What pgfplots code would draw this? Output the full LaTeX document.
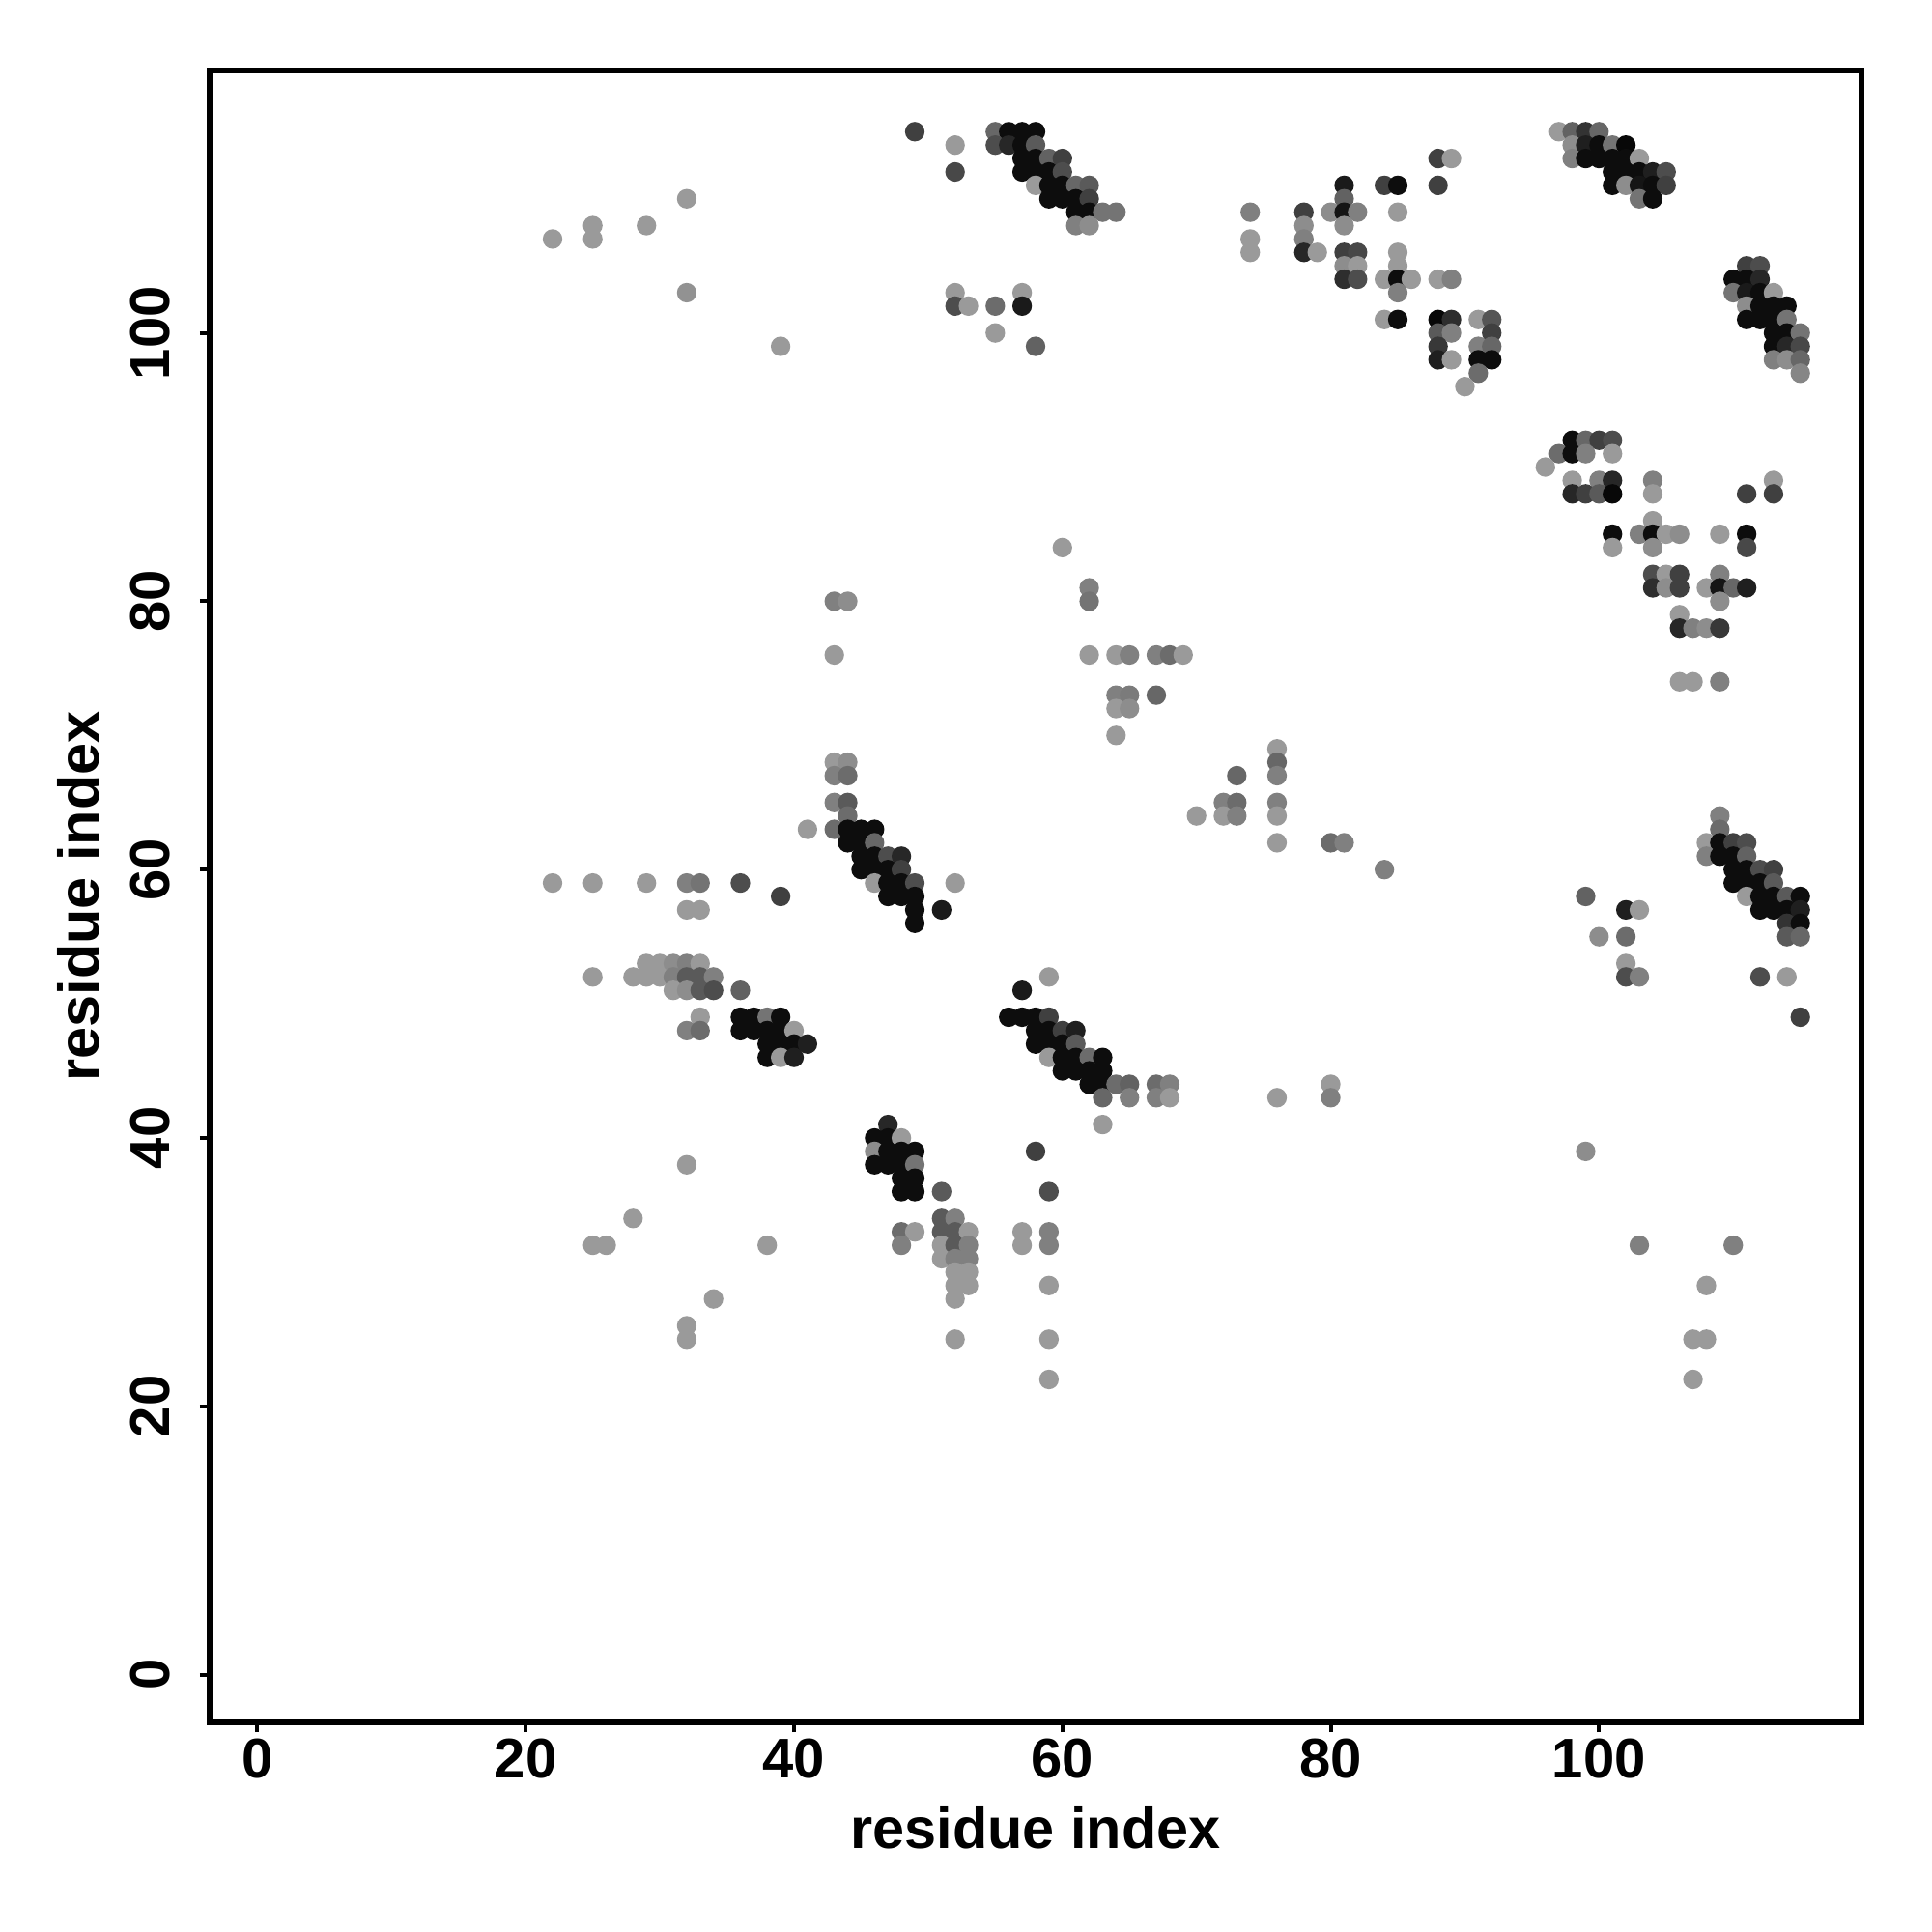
\documentclass[border=0pt]{standalone}
\usepackage{fontspec}
\setmainfont{Liberation Sans}
\usepackage{pgfplots}
\pgfplotsset{compat=1.18}
\usepackage{pgfplotstable}

\pgfplotstableread{
x y g
49 115 0.25
32 110 0.6
25 108 0.6
25 107 0.6
22 107 0.6
29 108 0.6
32 103 0.57
39 99 0.6
52 114 0.6
52 112 0.28
55 115 0.4
56 115 0.05
57 115 0.05
58 115 0.05
55 114 0.3
56 114 0.15
57 114 0.05
58 114 0.35
57 113 0.05
58 113 0.05
59 113 0.38
60 113 0.25
57 112 0.05
58 112 0.05
59 112 0.05
60 112 0.3
58 111 0.6
59 111 0.05
60 111 0.05
61 111 0.4
62 111 0.35
59 110 0.05
60 110 0.05
61 110 0.05
62 110 0.25
61 109 0.05
62 109 0.05
63 109 0.45
64 109 0.45
61 108 0.5
62 108 0.55
52 103 0.6
52 102 0.3
53 102 0.6
55 102 0.42
57 103 0.6
57 102 0.1
55 100 0.6
58 99 0.38
88 113 0.25
89 113 0.6
81 111 0.1
84 111 0.25
85 111 0.05
88 111 0.25
81 110 0.38
74 109 0.5
78 109 0.25
80 109 0.55
81 109 0.08
82 109 0.5
85 109 0.6
78 108 0.55
81 108 0.55
74 107 0.6
78 107 0.5
74 106 0.6
78 106 0.15
79 106 0.6
81 106 0.25
82 106 0.28
85 106 0.6
81 105 0.55
82 105 0.6
85 105 0.6
81 104 0.18
82 104 0.3
84 104 0.6
85 104 0.05
86 104 0.6
88 104 0.6
89 104 0.5
85 103 0.5
84 101 0.6
85 101 0.05
88 101 0.03
89 101 0.18
91 101 0.6
92 101 0.33
88 100 0.35
89 100 0.5
92 100 0.25
88 99 0.22
91 99 0.5
92 99 0.4
88 98 0.12
89 98 0.6
91 98 0.05
92 98 0.05
91 97 0.42
90 96 0.6
97 115 0.6
98 115 0.38
99 115 0.2
100 115 0.4
98 114 0.55
99 114 0.12
100 114 0.05
101 114 0.45
102 114 0.03
98 113 0.5
99 113 0.05
100 113 0.05
101 113 0.05
102 113 0.05
103 113 0.6
101 112 0.05
102 112 0.05
103 112 0.05
104 112 0.12
105 112 0.3
101 111 0.05
102 111 0.55
103 111 0.08
104 111 0.05
105 111 0.25
103 110 0.45
104 110 0.05
111 105 0.25
112 105 0.3
110 104 0.05
111 104 0.05
112 104 0.15
110 103 0.45
111 103 0.1
112 103 0.05
113 103 0.6
111 102 0.55
112 102 0.05
113 102 0.05
114 102 0.05
111 101 0.05
112 101 0.05
113 101 0.05
114 101 0.45
113 100 0.05
114 100 0.05
115 100 0.45
113 99 0.05
114 99 0.15
115 99 0.28
113 98 0.5
114 98 0.55
115 98 0.4
115 97 0.52
98 92 0.05
99 92 0.4
100 92 0.25
101 92 0.3
97 91 0.42
98 91 0.05
99 91 0.5
101 91 0.6
96 90 0.6
98 89 0.6
100 89 0.5
101 89 0.15
104 89 0.5
113 89 0.6
98 88 0.15
99 88 0.25
100 88 0.35
101 88 0.03
104 88 0.6
111 88 0.25
113 88 0.25
104 86 0.6
101 85 0.05
103 85 0.5
104 85 0.05
105 85 0.6
106 85 0.55
109 85 0.6
111 85 0.05
101 84 0.6
104 84 0.55
111 84 0.28
104 82 0.3
105 82 0.6
106 82 0.25
109 82 0.5
104 81 0.18
105 81 0.55
106 81 0.25
108 81 0.6
109 81 0.08
110 81 0.4
111 81 0.12
109 80 0.55
106 79 0.6
106 78 0.15
107 78 0.5
108 78 0.55
109 78 0.22
106 74 0.6
107 74 0.6
109 74 0.5
60 84 0.6
43 80 0.5
44 80 0.55
62 81 0.5
62 80 0.45
43 76 0.6
62 76 0.6
64 76 0.6
65 76 0.5
67 76 0.5
68 76 0.42
69 76 0.6
64 73 0.5
65 73 0.48
67 73 0.4
64 72 0.6
65 72 0.55
64 70 0.6
43 68 0.6
44 68 0.55
43 67 0.5
44 67 0.42
43 65 0.5
44 65 0.35
44 64 0.42
41 63 0.6
43 63 0.42
44 63 0.05
45 63 0.05
46 63 0.05
70 64 0.6
44 62 0.05
45 62 0.05
46 62 0.4
45 61 0.05
46 61 0.05
47 61 0.3
48 61 0.15
45 60 0.05
46 60 0.05
47 60 0.05
48 60 0.25
46 59 0.6
47 59 0.05
48 59 0.05
49 59 0.3
52 59 0.6
47 58 0.05
48 58 0.05
49 58 0.05
49 57 0.05
51 57 0.1
49 56 0.05
59 52 0.6
57 51 0.1
56 49 0.05
57 49 0.05
58 49 0.05
59 49 0.25
58 48 0.05
59 48 0.05
60 48 0.25
61 48 0.12
58 47 0.05
59 47 0.05
60 47 0.05
61 47 0.35
59 46 0.6
60 46 0.05
61 46 0.05
62 46 0.42
63 46 0.05
60 45 0.05
61 45 0.05
62 45 0.05
63 45 0.05
62 44 0.05
63 44 0.05
64 44 0.42
65 44 0.38
67 44 0.42
68 44 0.5
63 43 0.4
65 43 0.5
67 43 0.5
68 43 0.6
63 41 0.6
22 59 0.6
25 59 0.6
29 59 0.6
32 59 0.5
33 59 0.45
36 59 0.3
39 58 0.25
32 57 0.6
33 57 0.6
29 53 0.6
30 53 0.6
31 53 0.55
32 53 0.5
33 53 0.6
25 52 0.6
28 52 0.6
29 52 0.6
30 52 0.6
31 52 0.5
32 52 0.35
33 52 0.35
34 52 0.5
31 51 0.6
32 51 0.55
33 51 0.35
34 51 0.3
36 51 0.38
33 49 0.6
36 49 0.05
37 49 0.05
38 49 0.45
39 49 0.05
32 48 0.5
33 48 0.42
36 48 0.05
37 48 0.05
38 48 0.05
39 48 0.05
40 48 0.6
38 47 0.05
39 47 0.05
40 47 0.05
41 47 0.12
38 46 0.05
39 46 0.6
40 46 0.12
47 41 0.15
46 40 0.05
47 40 0.05
48 40 0.6
46 39 0.55
47 39 0.05
48 39 0.05
49 39 0.05
46 38 0.05
47 38 0.05
48 38 0.05
49 38 0.45
48 37 0.05
49 37 0.05
48 36 0.05
49 36 0.05
58 39 0.25
59 36 0.3
51 36 0.35
32 38 0.6
28 34 0.6
25 32 0.6
26 32 0.6
38 32 0.6
34 28 0.6
32 26 0.6
32 25 0.6
48 33 0.42
49 33 0.6
48 32 0.5
51 34 0.35
52 34 0.5
51 33 0.35
52 33 0.35
53 33 0.6
51 32 0.6
52 32 0.35
53 32 0.5
51 31 0.6
52 31 0.5
53 31 0.5
52 30 0.6
53 30 0.6
52 29 0.6
53 29 0.6
52 28 0.6
52 25 0.6
57 33 0.6
57 32 0.6
59 33 0.5
59 32 0.5
59 29 0.6
59 25 0.6
59 22 0.6
76 69 0.6
76 68 0.4
76 67 0.5
73 67 0.4
72 65 0.5
73 65 0.42
72 64 0.6
73 64 0.5
76 65 0.5
76 64 0.6
76 62 0.6
80 62 0.42
81 62 0.5
84 60 0.5
76 43 0.6
80 44 0.6
80 43 0.5
109 64 0.5
109 63 0.42
108 62 0.6
109 62 0.05
110 62 0.25
111 62 0.3
108 61 0.5
109 61 0.05
110 61 0.05
111 61 0.38
110 60 0.05
111 60 0.05
112 60 0.3
113 60 0.25
110 59 0.05
111 59 0.05
112 59 0.05
113 59 0.35
111 58 0.6
112 58 0.05
113 58 0.05
114 58 0.35
115 58 0.05
112 57 0.05
113 57 0.05
114 57 0.05
115 57 0.12
114 56 0.2
115 56 0.05
114 55 0.35
115 55 0.4
112 52 0.3
114 52 0.6
115 49 0.25
99 58 0.38
102 57 0.12
103 57 0.6
100 55 0.55
102 55 0.42
102 53 0.6
102 52 0.3
103 52 0.5
99 39 0.55
103 32 0.5
110 32 0.5
108 29 0.6
107 25 0.6
108 25 0.6
107 22 0.6
}\contacts

\begin{document}
\begin{tikzpicture}
\useasboundingbox (-54.25pt,-54.25pt) rectangle (445.75pt,445.75pt);
\begin{axis}[
  at={(0pt,0pt)}, anchor=south west,
  scale only axis, width=427.5pt, height=427.5pt,
  xmin=-3.56, xmax=119.56, ymin=-3.56, ymax=119.56,
  xtick={0,20,40,60,80,100}, ytick={0,20,40,60,80,100},
  tick pos=left,
  tick align=outside, major tick length=2.5pt,
  axis line style={line width=1.4pt},
  every tick/.style={black, line width=1pt},
  /pgf/number format/assume math mode=true,
  tick label style={font=\fontsize{14.5}{17}\selectfont\bfseries},
  xticklabel style={anchor=north, inner sep=0pt},
  xticklabel shift=1.6pt,
  yticklabel style={rotate=90, anchor=south, inner sep=0pt},
  yticklabel shift=7.6pt,
  xlabel={residue index}, ylabel={residue index},
  label style={font=\fontsize{14.85}{18}\selectfont\bfseries},
  xlabel style={at={([yshift=-32.5pt]axis description cs:0.5,0)}, anchor=base},
  ylabel style={at={([xshift=-28.5pt]axis description cs:0,0.5)}, anchor=base},
  colormap={bw}{gray(0cm)=(0); gray(1cm)=(1)},
  point meta min=0, point meta max=1,
]
\addplot[scatter, only marks, mark=*, mark size=2.33pt, point meta=explicit,
  scatter/use mapped color={draw=mapped color, fill=mapped color}]
  table[x=x, y=y, meta=g] {\contacts};
\end{axis}
\end{tikzpicture}
\end{document}
